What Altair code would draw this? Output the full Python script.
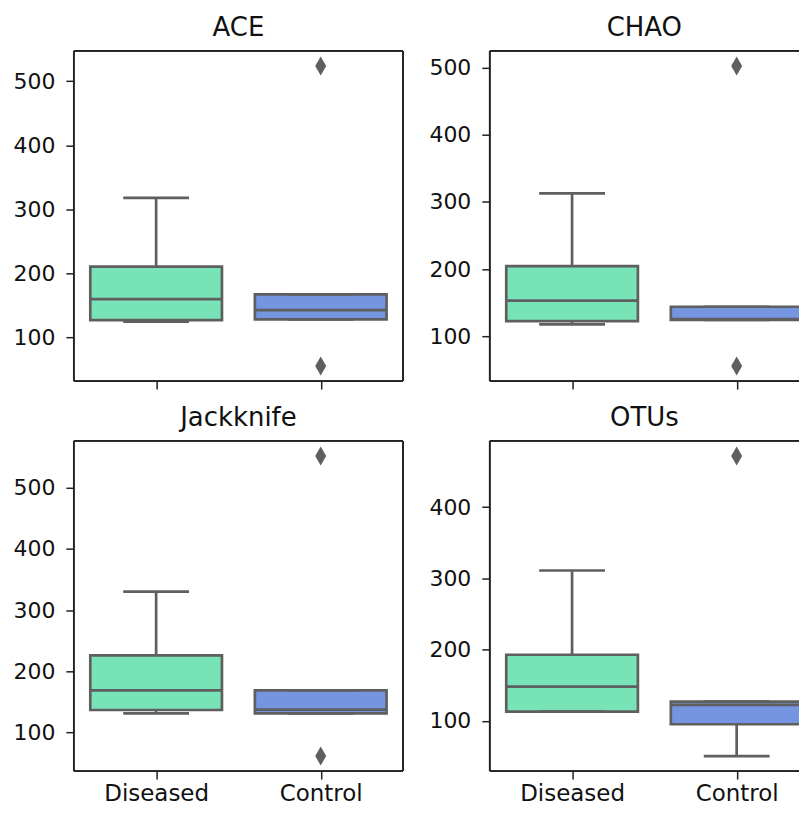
import altair as alt
import pandas as pd

metrics = ["ACE", "CHAO", "Jackknife", "OTUs"]
groups = ["Diseased", "Control"]
colors = ["#79e3b8", "#7595e0"]

# per metric: [Diseased, Control]
whisker_low = {"ACE": [125, 128.6], "CHAO": [117.4, 124], "Jackknife": [131.5, 131.5], "OTUs": [113, 50.7]}
q1 = {"ACE": [127.5, 128.6], "CHAO": [122.4, 124], "Jackknife": [137, 131.5], "OTUs": [113, 95.3]}
median = {"ACE": [160, 143], "CHAO": [152.8, 125.5], "Jackknife": [169, 137.5], "OTUs": [148.2, 122.5]}
q3 = {"ACE": [210.7, 167.5], "CHAO": [204.3, 143.8], "Jackknife": [226.2, 169], "OTUs": [192.8, 127]}
whisker_high = {"ACE": [318, 167.5], "CHAO": [313, 143.8], "Jackknife": [330.2, 169], "OTUs": [311, 127]}
outliers = {"ACE": [("Control", 524), ("Control", 55.7)],
            "CHAO": [("Control", 503), ("Control", 55.3)],
            "Jackknife": [("Control", 551.6), ("Control", 61.8)],
            "OTUs": [("Control", 471.7)]}

GRAY = "#5f5f5f"
FRAME = "#222222"
FONT = "DejaVu Sans"
DIAMOND = "M0,-1L0.58,0L0,1L-0.58,0Z"
STEP = 165      # distance between the two categories (px)
BOX_W = 132     # 0.8 of the step
CAP_W = 66
H = 331


def panel(metric, show_labels, vis_w):
    stats = pd.DataFrame({
        "group": groups,
        "lo": whisker_low[metric],
        "q1": q1[metric],
        "med": median[metric],
        "q3": q3[metric],
        "hi": whisker_high[metric],
    })
    outs = pd.DataFrame(outliers[metric], columns=["group", "value"])
    vals = list(stats["lo"]) + list(stats["hi"]) + list(outs["value"])
    vmin, vmax = min(vals), max(vals)
    pad = 0.05 * (vmax - vmin)
    dom = [vmin - pad, vmax + pad]
    ticks = [v for v in range(100, 700, 100) if dom[0] <= v <= dom[1]]

    # point scale keeping the same category spacing even when the panel is cut on the right
    p_pad = (vis_w / STEP - 1) / 2
    p_align = (STEP / 2) / (vis_w - STEP)
    xenc = alt.X("group:N", sort=groups,
                 scale=alt.Scale(type="point", domain=groups, padding=p_pad, align=p_align),
                 axis=alt.Axis(title=None, labels=show_labels, labelAngle=0, tickSize=8,
                               tickWidth=1.5, tickColor=FRAME, domain=False,
                               labelFont=FONT, labelFontSize=23, labelColor="#111111",
                               labelPadding=3, grid=False))
    yscale = alt.Scale(domain=dom, nice=False, zero=False)
    yaxis = alt.Axis(title=None, values=ticks, tickSize=8, tickWidth=1.5, tickColor=FRAME,
                     domain=False, labelFont=FONT, labelFontSize=22, labelColor="#111111",
                     labelPadding=11, grid=False, minExtent=60, maxExtent=60)

    base = alt.Chart(stats)
    whisk = base.mark_rule(color=GRAY, strokeWidth=2.7).encode(
        x=xenc, y=alt.Y("lo:Q", scale=yscale, axis=yaxis), y2="hi:Q")
    box = base.mark_bar(width=BOX_W, stroke=GRAY, strokeWidth=2.7, clip=True).encode(
        x=xenc, y=alt.Y("q1:Q", scale=yscale, axis=yaxis), y2="q3:Q",
        fill=alt.Fill("group:N", scale=alt.Scale(domain=groups, range=colors), legend=None))
    cap_lo = base.mark_tick(color=GRAY, size=CAP_W, thickness=2.7, opacity=1).encode(
        x=xenc, y=alt.Y("lo:Q", scale=yscale, axis=yaxis))
    cap_hi = base.mark_tick(color=GRAY, size=CAP_W, thickness=2.7, opacity=1).encode(
        x=xenc, y=alt.Y("hi:Q", scale=yscale, axis=yaxis))
    med = base.mark_tick(color=GRAY, size=BOX_W, thickness=2.7, opacity=1, clip=True).encode(
        x=xenc, y=alt.Y("med:Q", scale=yscale, axis=yaxis))
    pts = alt.Chart(outs).mark_point(shape=DIAMOND, size=361, filled=True, color=GRAY,
                                     opacity=1, strokeWidth=0).encode(
        x=xenc, y=alt.Y("value:Q", scale=yscale, axis=yaxis))

    frame_style = dict(color=FRAME, strokeWidth=1.7)
    f_top = base.mark_rule(**frame_style).encode(x=alt.value(0), x2=alt.value(vis_w), y=alt.value(0))
    f_bot = base.mark_rule(**frame_style).encode(x=alt.value(0), x2=alt.value(vis_w), y=alt.value(H))
    f_left = base.mark_rule(**frame_style).encode(x=alt.value(0), y=alt.value(0), y2=alt.value(H))
    layers = [whisk, box, cap_lo, cap_hi, med, pts, f_top, f_bot, f_left]
    if vis_w == 2 * STEP:
        f_right = base.mark_rule(**frame_style).encode(x=alt.value(vis_w), y=alt.value(0), y2=alt.value(H))
        layers.append(f_right)

    return alt.layer(*layers).properties(
        width=vis_w, height=H,
        title=alt.TitleParams(text=metric, font=FONT, fontSize=26, fontWeight="normal",
                              color="#111111", offset=9),
    )


RIGHT_W = 310
top = alt.hconcat(panel("ACE", False, 2 * STEP), panel("CHAO", False, RIGHT_W), spacing=25)
bottom = alt.hconcat(panel("Jackknife", True, 2 * STEP), panel("OTUs", True, RIGHT_W), spacing=25)
chart = alt.vconcat(top, bottom, spacing=15).properties(
    padding={"left": 5, "top": 6, "right": 0, "bottom": 0}
).configure_view(strokeOpacity=0)

chart.save("out.html", embed_options={"renderer": "svg", "actions": False})
